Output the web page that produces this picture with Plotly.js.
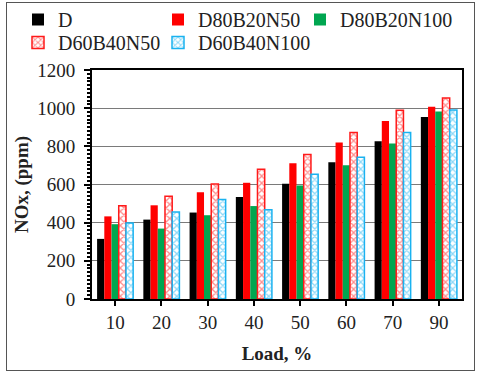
<!DOCTYPE html>
<html><head><meta charset="utf-8">
<script src="https://cdn.plot.ly/plotly-3.0.1.min.js"></script>
<style>html,body{margin:0;padding:0;background:#fff}#frame{position:absolute;left:6px;top:2px;width:467px;height:367px;border:1px solid #555;pointer-events:none}</style>
</head><body>
<div id="chart" style="width:480px;height:378px;"></div>
<div id="frame"></div>
<script>
const loads = ['10','20','30','40','50','60','70','90'];
const D          = [315, 416, 453, 534, 604, 717, 827, 954];
const D80B20N50  = [433, 491, 560, 609, 712, 820, 933, 1008];
const D80B20N100 = [392, 369, 439, 487, 595, 701, 815, 982];
const D60B40N50  = [489, 538, 602, 680, 757, 872, 989, 1053];
const D60B40N100 = [398, 456, 522, 468, 654, 743, 872, 991];
const yTicks = [0, 200, 400, 600, 800, 1000, 1200];

function solid(name, y, color, lg){
  return {type:'bar', name:name, x:loads, y:y, legend:lg, marker:{color:color, line:{width:0}}};
}
function hatched(name, y, color, lg){
  return {type:'bar', name:name, x:loads, y:y, legend:lg,
    marker:{color:'#ffffff', line:{color:color, width:1.5},
      pattern:{shape:'x', fgcolor:color, bgcolor:'#ffffff', size:5, solidity:0.45, fillmode:'overlay'}}};
}
const data = [
  solid('D', D, '#000000', 'legend'),
  solid('D80B20N50', D80B20N50, '#ff0000', 'legend2'),
  solid('D80B20N100', D80B20N100, '#00a650', 'legend3'),
  hatched('D60B40N50', D60B40N50, '#ff1a1a', 'legend4'),
  hatched('D60B40N100', D60B40N100, '#1ab2f0', 'legend5')
];
const sf = 'Liberation Serif, Times New Roman, serif';
const font = {family:sf, size:19, color:'#222'};
function lg(xpx, ytop){
  return {orientation:'v', xref:'paper', yref:'container', x:(xpx-92)/370, y:1-ytop/378,
    xanchor:'left', yanchor:'top', font:{family:sf, size:20, color:'#222'},
    itemwidth:30, bgcolor:'rgba(0,0,0,0)', borderwidth:0};
}
const layout = {
  width:480, height:378,
  margin:{l:92, r:18, t:70, b:79},
  paper_bgcolor:'#fff', plot_bgcolor:'#fff',
  font: font,
  barmode:'group', bargap:0.22, bargroupgap:0,
  showlegend:true,
  legend: lg(18, -1),
  legend2: lg(158, -1),
  legend3: lg(300, -1),
  legend4: lg(18, 23),
  legend5: lg(158, 23),
  xaxis:{type:'category', showline:true, linecolor:'#000', linewidth:2, mirror:true,
    ticks:'outside', ticklen:5, tickwidth:2, tickcolor:'#000', showgrid:false,
    title:{text:'<b>Load, %</b>', font:{family:sf, size:19, color:'#222'}, standoff:15},
    tickfont:font, automargin:false},
  xaxis2:{type:'linear', overlaying:'x', anchor:'y', side:'bottom', range:[-0.5,7.5],
    tickmode:'array', tickvals:[-0.5,0.5,1.5,2.5,3.5,4.5,5.5,6.5,7.5], showticklabels:false,
    ticks:'outside', ticklen:6, tickwidth:2, tickcolor:'#000', showgrid:false, showline:false, zeroline:false},
  yaxis:{range:[0,1200], tickmode:'array', tickvals:yTicks, showline:true, linecolor:'#000', linewidth:2, mirror:true,
    ticks:'outside', ticklen:6, tickwidth:2, tickcolor:'#000', ticklabelstandoff:5,
    minor:{dtick:20, ticks:'outside', ticklen:3, tickwidth:2, tickcolor:'#000', showgrid:false},
    showgrid:true, gridcolor:'#7a7a7a', gridwidth:1, zeroline:false,
    title:{text:'<b>NOx, (ppm)</b>', font:{family:sf, size:19, color:'#222'}, standoff:4},
    tickfont:font, automargin:false}
};
Plotly.newPlot('chart', data, layout, {displayModeBar:false, staticPlot:true});
</script>
</body></html>
